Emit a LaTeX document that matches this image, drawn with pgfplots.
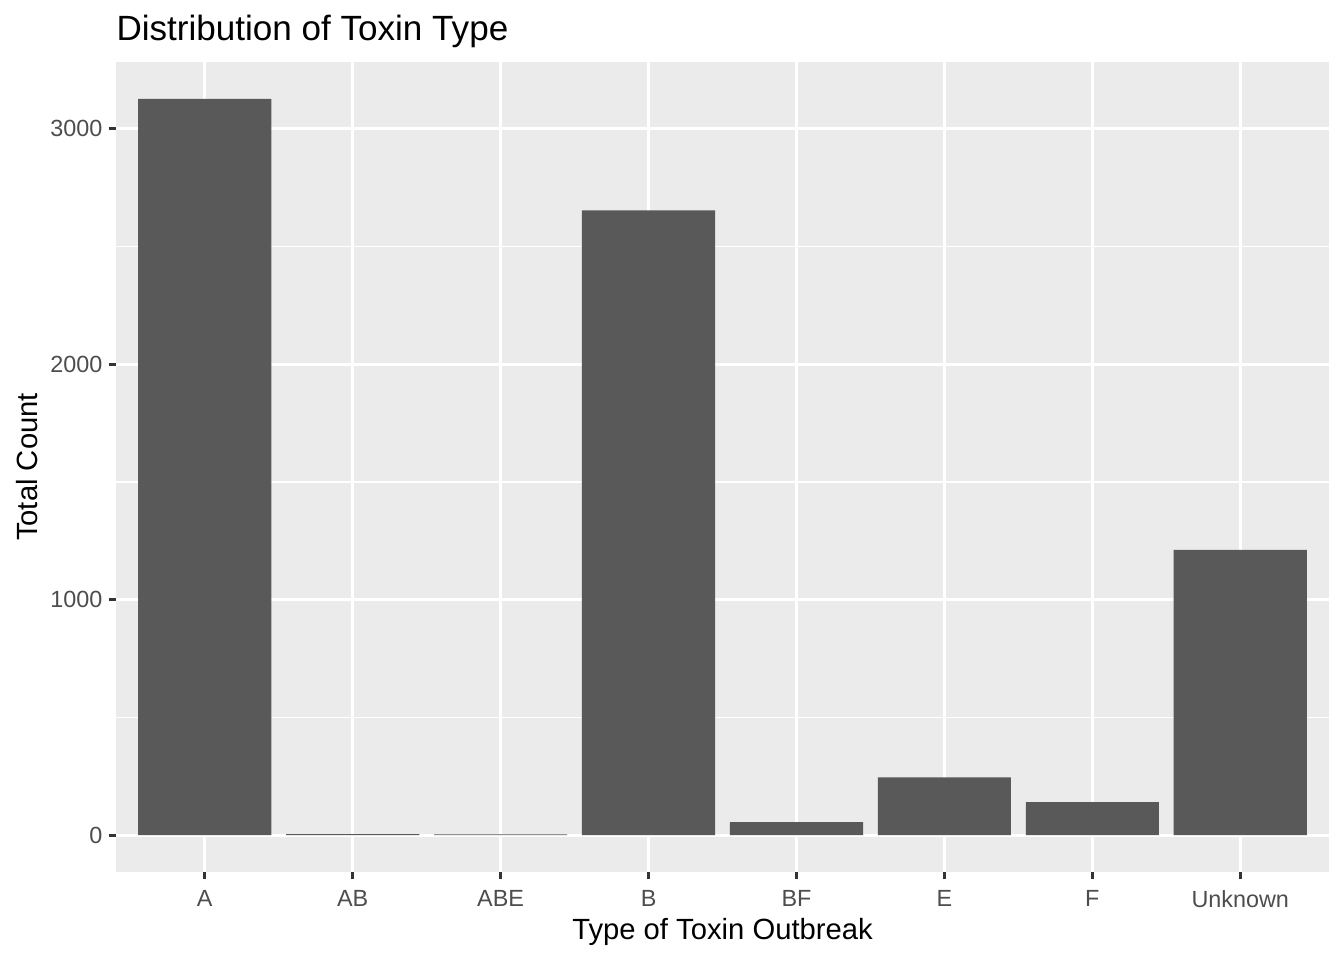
\documentclass[border=0pt]{standalone}
\usepackage{fontspec}
\setmainfont{Liberation Sans}
\usepackage{pgfplots}
\pgfplotsset{compat=1.18}
\definecolor{ggbg}{HTML}{EBEBEB}
\definecolor{ggbar}{HTML}{595959}
\definecolor{ggtick}{HTML}{4D4D4D}
\definecolor{ggtickline}{HTML}{333333}
\begin{document}
\begin{tikzpicture}
\path[use as bounding box] (0pt,0pt) rectangle (505.89pt,361.35pt);
\begin{axis}[
  at={(43.66pt,33.12pt)}, anchor=south west,
  scale only axis,
  width=456.6pt, height=304.9pt,
  xmin=0.4, xmax=8.6,
  ymin=-156.35, ymax=3283.35,
  xtick={1,...,8},
  xticklabels={A,AB,ABE,B,BF,E,F,Unknown},
  ytick={0,1000,2000,3000},
  minor ytick={500,1500,2500},
  scaled y ticks=false,
  /pgf/number format/assume math mode=true,
  yticklabel={\pgfmathprintnumber[fixed,1000 sep={}]{\tick}},
  axis background/.style={fill=ggbg},
  axis line style={draw=none},
  tick align=outside,
  xtick pos=bottom, ytick pos=left,
  major tick length=2.75pt,
  minor tick length=0pt,
  major tick style={color=ggtickline, line width=1.07pt},
  xmajorgrids, ymajorgrids, yminorgrids,
  major grid style={white, line width=1.07pt},
  minor grid style={white, line width=0.53pt},
  ticklabel style={font=\fontsize{8.8}{10}\selectfont, color=ggtick},
  xticklabel style={inner sep=0pt, anchor=north, yshift=-4.1pt},
  yticklabel style={inner sep=0pt, anchor=east, xshift=-2.2pt},
  xlabel={Type of Toxin Outbreak},
  ylabel={Total Count},
  xlabel style={font=\fontsize{11}{13}\selectfont, at={(axis description cs:0.5,-0.0741)}, anchor=center, inner sep=0pt},
  ylabel style={font=\fontsize{11}{13}\selectfont, at={(axis description cs:-0.0734,0.5)}, anchor=center, inner sep=0pt},
  title={Distribution of Toxin Type},
  title style={font=\fontsize{13.2}{15}\selectfont, at={(axis description cs:0,1.0395)}, anchor=base west, yshift=-9.85pt, inner sep=0pt},
]
\addplot[ybar, bar width=0.9, fill=ggbar, draw=none, bar shift=0pt] coordinates {
  (1,3127) (2,4) (3,3) (4,2653) (5,55) (6,246) (7,140) (8,1212)
};
\end{axis}
\end{tikzpicture}
\end{document}
